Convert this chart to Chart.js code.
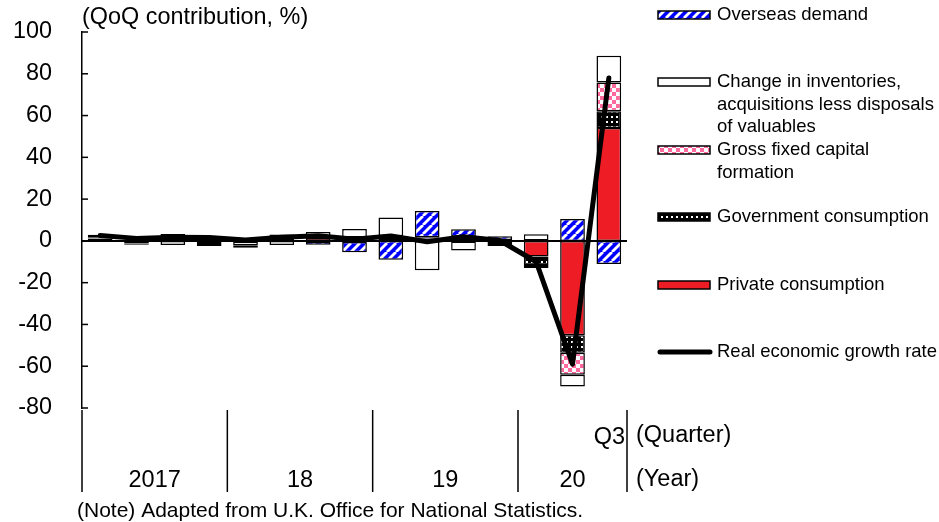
<!DOCTYPE html>
<html>
<head>
<meta charset="utf-8">
<script src="https://cdn.jsdelivr.net/npm/chart.js@4.4.1/dist/chart.umd.min.js"></script>
<style>
  html, body { margin: 0; padding: 0; background: #fff; }
  #wrap { position: relative; width: 939px; height: 522px; }
</style>
</head>
<body>
<div id="wrap"><canvas id="gdpChart" width="939" height="522"></canvas></div>
<script>
// ======================= DATA =======================

const quarters = ['2017Q1', '2017Q2', '2017Q3', '2017Q4',
                  '2018Q1', '2018Q2', '2018Q3', '2018Q4',
                  '2019Q1', '2019Q2', '2019Q3', '2019Q4',
                  '2020Q1', '2020Q2', '2020Q3'];
const years = ['2017', '18', '19', '20'];
const quartersPerYear = [4, 4, 4, 3];
const lastQuarterLabel = 'Q3';

// y axis range / tick step
const yMin = -80;
const yMax = 100;
const yStep = 20;

// contributions (annualised QoQ, % pts)
const privateConsumption    = [1.0, 0.6, 1.2, 1.0, 0.5, 1.4, 1.5, 1.1, 0.9, 0.6, 1.4, -0.4, -7.5, -45.2, 54.1];
const governmentConsumption = [0.1, 0.0, 0.2, 0.1, 0.2, 0.4, 0.3, 0.5, 0.8, 0.6, 0.6, 0.4, -4.0, -8.3, 8.0];
const grossFixedCapital     = [0.4, 0.1, 0.5, 0.2, -0.3, 0.3, -0.3, -0.5, 0.5, 0.6, -0.3, -0.6, 0.2, -10.6, 13.7];
const inventories           = [1.4, -1.2, -2.0, -1.0, -1.8, -2.0, 2.5, 4.1, 9.0, -14.0, -4.3, -1.4, 3.0, -5.6, 12.8];
const overseasDemand        = [-0.3, -0.6, 1.4, -1.4, -1.2, 1.0, -1.5, -4.9, -9.0, 12.5, 3.6, 1.8, -1.5, 10.5, -11.1];
const realGrowth            = [2.6, 1.2, 1.8, 1.6, 0.4, 1.8, 2.5, 0.8, 2.4, -0.4, 2.0, 0.2, -10.0, -59.0, 78.0];

// legend texts, top to bottom (line breaks as in the original)
const legendOverseas    = ['Overseas demand'];
const legendInventories = ['Change in inventories,', 'acquisitions less disposals', 'of valuables'];
const legendGfcf        = ['Gross fixed capital', 'formation'];
const legendGov         = ['Government consumption'];
const legendPrivate     = ['Private consumption'];
const legendGrowth      = ['Real economic growth rate'];

const titleText = '(QoQ contribution, %)';
const noteText = '(Note) Adapted from U.K. Office for National Statistics.';


// ======================= PATTERNS =======================

const FONT = '"Liberation Sans", Arial, sans-serif';

function makePattern(size, draw) {
    const c = document.createElement('canvas');
    c.width = size;
    c.height = size;
    const g = c.getContext('2d');
    draw(g, size);
    return g.createPattern(c, 'repeat');
}

// blue with white "/" stripes
const stripePattern = makePattern(9, (g, s) => {
    g.fillStyle = '#0000ff';
    g.fillRect(0, 0, s, s);
    g.strokeStyle = '#ffffff';
    g.lineWidth = 2.8;
    for (let k = -1; k <= 1; k++) {
        g.beginPath();
        g.moveTo(k * s, s);
        g.lineTo(k * s + s, 0);
        g.stroke();
    }
});

// pink / white checkerboard
const checkPattern = makePattern(8, (g, s) => {
    g.fillStyle = '#ffffff';
    g.fillRect(0, 0, s, s);
    g.fillStyle = '#ff6a9e';
    g.fillRect(0, 0, s / 2, s / 2);
    g.fillRect(s / 2, s / 2, s / 2, s / 2);
});

// black with small white dots
const dotPattern = makePattern(5, (g, s) => {
    g.fillStyle = '#000000';
    g.fillRect(0, 0, s, s);
    g.fillStyle = '#ffffff';
    g.fillRect(1, 1, 2, 2);
});

const RED = '#ee1c25';


// ======================= PLUGINS =======================

// zero line: drawn right after the bars (dataset 0 is the last bar drawn)
const zeroLinePlugin = {
    id: 'zeroLine',
    afterDatasetDraw(chart, args) {
        if (args.index !== 0) return;
        const { ctx, chartArea, scales } = chart;
        const y = scales.y.getPixelForValue(0);
        ctx.save();
        ctx.strokeStyle = '#000';
        ctx.lineWidth = 2;
        ctx.beginPath();
        ctx.moveTo(chartArea.left, y);
        ctx.lineTo(chartArea.right, y);
        ctx.stroke();
        ctx.restore();
    }
};

// texts, inward ticks, year/quarter axis, legend
const decorPlugin = {
    id: 'decor',
    afterDraw(chart) {
        const { ctx, chartArea, scales } = chart;
        const xs = scales.x;
        const ys = scales.y;
        ctx.save();
        ctx.fillStyle = '#000';
        ctx.strokeStyle = '#000';

        // title
        ctx.font = '23.4px ' + FONT;
        ctx.textAlign = 'left';
        ctx.textBaseline = 'middle';
        ctx.fillText(titleText, chartArea.left, 18);

        // inward y ticks
        ctx.lineWidth = 1.5;
        for (let v = yMin; v <= yMax; v += yStep) {
            const y = ys.getPixelForValue(v);
            ctx.beginPath();
            ctx.moveTo(chartArea.left, y);
            ctx.lineTo(chartArea.left + 6, y);
            ctx.stroke();
        }

        // year dividers and labels
        const half = (xs.getPixelForValue(1) - xs.getPixelForValue(0)) / 2;
        const top = chartArea.bottom + 2;
        const bottom = 492;
        let start = 0;
        let edge = xs.getPixelForValue(0) - half;
        ctx.lineWidth = 1.5;
        ctx.beginPath();
        ctx.moveTo(edge, top);
        ctx.lineTo(edge, bottom);
        ctx.stroke();
        ctx.font = '23.5px ' + FONT;
        ctx.textAlign = 'center';
        years.forEach((yr, i) => {
            const end = start + quartersPerYear[i] - 1;
            const l = xs.getPixelForValue(start) - half;
            const r = xs.getPixelForValue(end) + half;
            ctx.beginPath();
            ctx.moveTo(r, top);
            ctx.lineTo(r, bottom);
            ctx.stroke();
            ctx.fillText(yr, (l + r) / 2, 481);
            start = end + 1;
            edge = r;
        });

        // last quarter label and axis captions
        ctx.textAlign = 'right';
        ctx.fillText(lastQuarterLabel, edge - 2, 438);
        ctx.textAlign = 'left';
        ctx.fillText('(Quarter)', edge + 9, 436);
        ctx.fillText('(Year)', edge + 9, 480);

        // note
        ctx.font = '21px ' + FONT;
        ctx.fillText(noteText, 77, 511);

        // legend
        const legendItems = [
            { lines: legendOverseas, fill: stripePattern, y: 15 },
            { lines: legendInventories, fill: '#ffffff', y: 82 },
            { lines: legendGfcf, fill: checkPattern, y: 150 },
            { lines: legendGov, fill: dotPattern, y: 217 },
            { lines: legendPrivate, fill: RED, y: 285 },
            { lines: legendGrowth, fill: null, y: 352 }
        ];
        const sx = 658, sw = 52, sh = 8, tx = 717;
        ctx.font = '18.5px ' + FONT;
        ctx.textAlign = 'left';
        ctx.textBaseline = 'middle';
        legendItems.forEach(item => {
            if (item.fill) {
                ctx.fillStyle = item.fill;
                ctx.fillRect(sx, item.y - sh / 2, sw, sh);
                ctx.lineWidth = 1.5;
                ctx.strokeRect(sx, item.y - sh / 2, sw, sh);
            } else {
                ctx.lineWidth = 5;
                ctx.lineCap = 'round';
                ctx.beginPath();
                ctx.moveTo(sx + 2, item.y);
                ctx.lineTo(sx + sw, item.y);
                ctx.stroke();
            }
            ctx.fillStyle = '#000';
            item.lines.forEach((t, k) => ctx.fillText(t, tx, item.y + k * 22.5));
        });

        ctx.restore();
    }
};


// ======================= CHART =======================

const barStyle = {
    borderColor: '#000',
    borderWidth: 1.5,
    borderSkipped: false,
    barPercentage: 0.68,
    categoryPercentage: 1.0,
    order: 1
};

const ctx = document.getElementById('gdpChart').getContext('2d');

new Chart(ctx, {
    data: {
        labels: quarters,
        datasets: [
            { type: 'bar', label: legendPrivate.join(' '), data: privateConsumption, backgroundColor: RED, ...barStyle },
            { type: 'bar', label: legendGov.join(' '), data: governmentConsumption, backgroundColor: dotPattern, ...barStyle },
            { type: 'bar', label: legendGfcf.join(' '), data: grossFixedCapital, backgroundColor: checkPattern, ...barStyle },
            { type: 'bar', label: legendInventories.join(' '), data: inventories, backgroundColor: '#ffffff', ...barStyle },
            { type: 'bar', label: legendOverseas.join(' '), data: overseasDemand, backgroundColor: stripePattern, ...barStyle },
            {
                type: 'line',
                label: legendGrowth.join(' '),
                data: realGrowth,
                stack: 'growth',
                borderColor: '#000',
                borderWidth: 5,
                borderCapStyle: 'round',
                borderJoinStyle: 'round',
                pointRadius: 0,
                tension: 0,
                fill: false,
                order: 0
            }
        ]
    },
    options: {
        responsive: false,
        animation: false,
        layout: {
            padding: { top: 32, right: 312, bottom: 114, left: 0 }
        },
        plugins: {
            legend: { display: false },
            tooltip: { enabled: false }
        },
        scales: {
            x: {
                type: 'category',
                stacked: true,
                display: false,
                offset: true
            },
            y: {
                stacked: true,
                min: yMin,
                max: yMax,
                afterFit: scale => {
                    scale.width = 82;
                    scale.paddingTop = 0;
                    scale.paddingBottom = 0;
                },
                ticks: {
                    stepSize: yStep,
                    color: '#000',
                    padding: 30,
                    font: { family: FONT, size: 23.4 }
                },
                grid: { display: false, drawTicks: false },
                border: { display: true, color: '#000', width: 1.5 }
            }
        }
    },
    plugins: [zeroLinePlugin, decorPlugin]
});
</script>
</body>
</html>
